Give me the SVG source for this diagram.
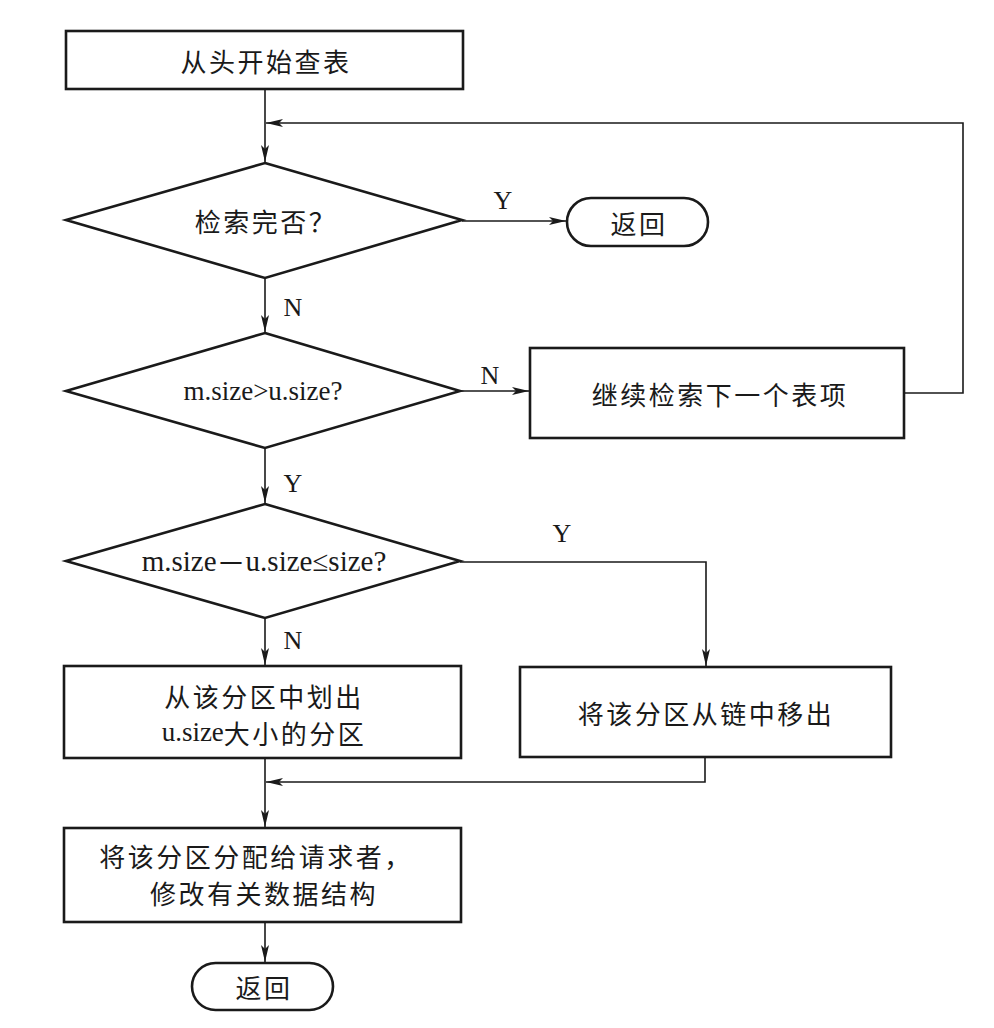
<svg xmlns="http://www.w3.org/2000/svg" width="994" height="1028" viewBox="0 0 994 1028">
<style>
.box{fill:#fff;stroke:#1a1a1a;stroke-width:2.6}
.ln{fill:none;stroke:#1a1a1a;stroke-width:1.6}
.cn{font-family:"Noto Sans CJK SC","Noto Sans CJK JP",sans-serif;font-size:26px;letter-spacing:2.5px;fill:#1a1a1a;text-anchor:middle;dominant-baseline:central}
.lt{font-family:"Liberation Serif",serif;font-size:27px;fill:#1a1a1a;text-anchor:middle;dominant-baseline:central}
.lb{font-family:"Liberation Serif",serif;font-size:26px;fill:#1a1a1a;text-anchor:middle;dominant-baseline:central}
</style>
<defs>
<marker id="ah" markerUnits="userSpaceOnUse" markerWidth="18" markerHeight="10" viewBox="0 0 18 10" refX="17" refY="5" orient="auto">
<path d="M0,1 L17,5 L0,9 L4,5 Z" fill="#1a1a1a"/>
</marker>
</defs>
<rect width="994" height="1028" fill="#fff"/>
<g id="connectors">
<path class="ln" d="M265,89 V162" marker-end="url(#ah)"/>
<path class="ln" d="M904,393 H963 V123 H266" marker-end="url(#ah)"/>
<path class="ln" d="M462,221 H566" marker-end="url(#ah)"/>
<path class="ln" d="M265,278 V332" marker-end="url(#ah)"/>
<path class="ln" d="M460,391 H529" marker-end="url(#ah)"/>
<path class="ln" d="M265,448 V503" marker-end="url(#ah)"/>
<path class="ln" d="M460,562 H706 V666" marker-end="url(#ah)"/>
<path class="ln" d="M265,618 V665" marker-end="url(#ah)"/>
<path class="ln" d="M265,758 V827" marker-end="url(#ah)"/>
<path class="ln" d="M705,757 V782 H266" marker-end="url(#ah)"/>
<path class="ln" d="M265,922 V962" marker-end="url(#ah)"/>
<text class="lb" x="503" y="200">Y</text>
<text class="lb" x="293" y="307">N</text>
<text class="lb" x="490" y="375">N</text>
<text class="lb" x="293" y="483">Y</text>
<text class="lb" x="562" y="533">Y</text>
<text class="lb" x="293" y="640">N</text>
</g>
<g id="start">
<rect class="box" x="66" y="31" width="397" height="58"/>
<text class="cn" x="266" y="60">从头开始查表</text>
</g>
<g id="d1">
<polygon class="box" points="265,163 462,220 265,278 66,220"/>
<text class="cn" x="266" y="220">检索完否？</text>
</g>
<g id="ret1">
<rect class="box" x="567" y="198" width="141" height="48" rx="24" ry="24"/>
<text class="cn" x="639" y="222">返回</text>
</g>
<g id="d2">
<polygon class="box" points="265,333 460,391 265,448 66,391"/>
<text class="lt" x="263" y="391">m.size&gt;u.size?</text>
</g>
<g id="next">
<rect class="box" x="530" y="348" width="374" height="90"/>
<text class="cn" x="720" y="393">继续检索下一个表项</text>
</g>
<g id="d3">
<polygon class="box" points="265,504 460,561 265,618 66,561"/>
<text class="lt" x="264" y="561" style="font-size:29px">m.size<tspan style="font-family:'Noto Sans CJK SC',sans-serif">－</tspan>u.size≤size?</text>
</g>
<g id="split">
<rect class="box" x="64" y="666" width="397" height="92"/>
<text class="cn" x="264" y="695">从该分区中划出</text>
<text class="cn" x="264" y="732"><tspan style="font-family:'Liberation Serif',serif;font-size:27px;letter-spacing:0">u.size</tspan>大小的分区</text>
</g>
<g id="remove">
<rect class="box" x="520" y="667" width="371" height="90"/>
<text class="cn" x="706" y="712">将该分区从链中移出</text>
</g>
<g id="assign">
<rect class="box" x="64" y="828" width="397" height="94"/>
<text class="cn" x="256" y="855">将该分区分配给请求者，</text>
<text class="cn" x="264" y="892">修改有关数据结构</text>
</g>
<g id="ret2">
<rect class="box" x="192" y="963" width="141" height="47" rx="23.5" ry="23.5"/>
<text class="cn" x="264" y="986">返回</text>
</g>
</svg>
